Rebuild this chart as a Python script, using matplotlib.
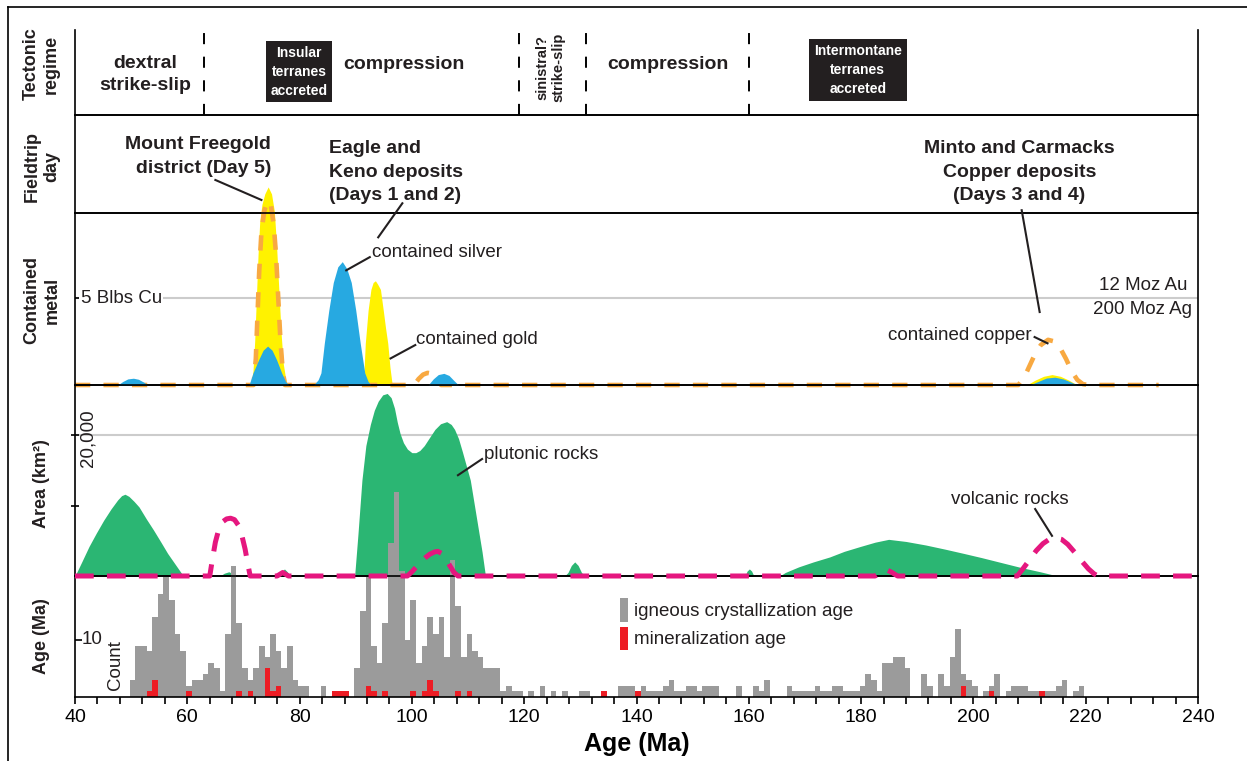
import matplotlib
matplotlib.use("Agg")
import matplotlib.pyplot as plt
from matplotlib.patches import Rectangle
from matplotlib.lines import Line2D
import numpy as np

plt.rcParams['font.family'] = ['Liberation Sans', 'DejaVu Sans']
plt.rcParams['lines.scale_dashes'] = False

# ---- tectonic regime ----
regime_bounds = [63, 119, 131, 160]

# ---- contained metal (arbitrary units, 5 = "5 Blbs Cu" line) ----
gold_age = [71.3, 71.7, 72.0, 72.3, 72.6, 72.9, 73.3, 73.8, 74.4, 75.0, 75.5, 75.9, 76.3, 76.7, 77.1, 77.6, 78.0,
            91.2, 91.5, 91.7, 92.2, 92.7, 93.1, 93.5, 93.9, 94.4, 94.9, 95.3, 95.7, 96.1, 96.5,
            209.5, 211.0, 212.5, 214.0, 215.5, 217.0, 218.5]
gold_val = [0, 0.8, 2.5, 5.0, 7.5, 9.4, 10.4, 11.0, 11.4, 11.0, 10.0, 8.0, 5.5, 3.0, 1.2, 0.2, 0,
            0, 1.0, 2.4, 4.3, 5.5, 5.9, 6.0, 5.8, 5.5, 4.3, 3.3, 2.4, 1.0, 0,
            0, 0.28, 0.5, 0.6, 0.5, 0.28, 0]

silver_age = [47.6, 48.5, 49.4, 50.4, 51.3, 52.2, 53.0,
              71.0, 71.7, 72.7, 73.5, 74.3, 75.1, 75.9, 76.8, 77.5, 78.1,
              82.5, 83.3, 83.8, 84.4, 85.2, 86.0, 86.8, 87.6, 88.4, 89.2, 90.0, 90.8, 91.6, 92.2, 92.7,
              102.9, 103.8, 104.7, 105.7, 106.6, 107.5, 108.3,
              210.0, 211.5, 213.0, 214.5, 216.0, 217.5, 218.5]
silver_val = [0, 0.2, 0.35, 0.39, 0.33, 0.17, 0,
              0, 0.7, 1.45, 2.0, 2.24, 2.0, 1.45, 0.7, 0.2, 0,
              0, 0.3, 0.7, 2.4, 4.3, 5.9, 6.8, 7.1, 6.7, 5.9, 4.3, 2.4, 0.7, 0.2, 0,
              0, 0.35, 0.6, 0.67, 0.55, 0.25, 0,
              0, 0.2, 0.4, 0.45, 0.35, 0.15, 0]

copper_age = [40, 71.8, 72.2, 72.5, 72.8, 73.2, 73.7, 74.3, 74.9, 75.4, 75.8, 76.2, 76.6, 77.0, 77.4,
              100.4, 101.2, 102.0, 102.8, 103.6, 104.4, 105.2,
              208.0, 209.0, 210.0, 211.0, 212.0, 213.3, 214.5, 215.5, 216.5, 217.5, 218.5, 219.5, 220.5, 233]
copper_val = [0, 0, 1.5, 4.0, 6.5, 8.8, 10.0, 10.6, 10.3, 9.2, 7.5, 5.0, 2.5, 0.8, 0,
              0, 0.35, 0.6, 0.7, 0.65, 0.35, 0,
              0, 0.4, 1.1, 1.8, 2.3, 2.6, 2.5, 2.1, 1.5, 0.8, 0.3, 0.05, 0, 0]

# ---- area (thousand km^2) ----
pluton_age = [40, 41.2, 42.5, 43.8, 45.1, 46.4, 47.6, 48.3, 48.9, 49.6, 50.5, 51.4, 52.7, 54.0, 55.3, 56.5, 57.9, 59.3,
              65.8, 66.6, 67.4, 68.2, 69.0,
              76.2, 76.8, 77.3, 77.8, 78.4,
              89.8, 90.4, 91.1, 91.8, 92.6, 93.3, 94.0, 94.8, 95.6, 96.3, 96.9, 97.4, 97.9, 98.5, 99.2,
              100.0, 100.7, 101.4, 102.2, 103.1, 104.1, 105.1, 106.2, 107.0, 107.6, 108.3, 109.0, 109.7,
              110.4, 111.1, 111.8, 112.5, 113.1,
              127.2, 127.8, 128.4, 129.0, 129.6, 130.2, 130.8,
              159.3, 159.7, 160.1, 160.5, 160.9,
              165.5, 166.5, 168.9, 171.5, 174.4, 177.0, 179.9, 182.5, 184.9, 188.0, 191.5, 195.0, 198.3,
              201.5, 205.0, 208.5, 211.9, 215.0]
pluton_val = [0, 2.0, 4.2, 6.1, 7.9, 9.5, 10.8, 11.4, 11.6, 11.3, 10.6, 9.8, 8.1, 6.5, 4.8, 3.2, 1.6, 0,
              0, 0.4, 0.6, 0.3, 0,
              0, 0.6, 1.0, 0.6, 0,
              0, 6.0, 13.6, 18.5, 21.5, 23.5, 24.8, 25.7, 25.9, 25.3, 23.8, 21.8, 20.2, 18.9, 18.0,
              17.5, 17.5, 17.8, 18.5, 19.6, 20.8, 21.6, 21.9, 21.5, 20.8, 19.5, 17.6, 15.6,
              13.6, 10.2, 6.8, 3.4, 0,
              0, 0.5, 1.5, 2.0, 1.5, 0.5, 0,
              0, 0.7, 1.0, 0.7, 0,
              0, 0.5, 1.3, 2.0, 2.7, 3.5, 4.2, 4.8, 5.2, 4.9, 4.4, 3.8, 3.2,
              2.6, 1.9, 1.2, 0.6, 0]

volc_age = [40, 64.0, 64.5, 65.0, 65.6, 66.3, 67.0, 67.7, 68.4, 69.1, 69.7, 70.3, 70.8, 71.2,
            76.0, 77.0, 78.0,
            99.2, 100.0, 100.8, 101.6, 102.4, 103.2, 104.0, 104.6, 105.3, 106.0, 106.8, 107.5, 108.2,
            182.5, 183.5, 184.5, 185.5, 186.5,
            207.8, 208.8, 210.0, 211.2, 212.4, 213.5, 214.6, 215.7, 216.8, 218.0, 219.2, 220.5, 221.5, 222.2, 240]
volc_val = [0, 0, 2.5, 4.8, 6.6, 7.7, 8.1, 8.2, 8.0, 7.2, 5.8, 3.8, 1.6, 0,
            0, 0.5, 0,
            0, 0.6, 1.3, 2.0, 2.6, 3.1, 3.4, 3.5, 3.2, 2.5, 1.4, 0.5, 0,
            0, 0.5, 0.9, 0.5, 0,
            0, 1.0, 2.3, 3.6, 4.6, 5.2, 5.4, 5.2, 4.5, 3.4, 2.2, 1.0, 0.3, 0, 0]

# ---- age histogram (1 Ma bins starting at 50 Ma) ----
igneous_counts = [3, 9, 9, 8, 14, 18, 21, 17, 11, 8,
                  2, 3, 3, 4, 6, 5, 1, 11, 23, 13,
                  5, 3, 5, 9, 7, 11, 8, 5, 9, 3,
                  2, 2, 0, 0, 2, 0, 1, 1, 1, 0,
                  5, 15, 21, 9, 6, 13, 27, 36, 22, 10,
                  17, 6, 9, 14, 11, 14, 7, 24, 16, 7,
                  11, 8, 7, 5, 5, 5, 1, 2, 1, 1,
                  0, 1, 0, 2, 0, 1, 0, 1, 0, 0,
                  1, 1, 0, 0, 1, 0, 0, 2, 2, 2,
                  1, 2, 1, 1, 1, 2, 3, 1, 1, 2,
                  2, 1, 2, 2, 2, 0, 0, 0, 2, 0,
                  0, 2, 1, 3, 0, 0, 0, 2, 1, 1,
                  1, 1, 2, 1, 1, 2, 2, 1, 1, 1,
                  2, 4, 3, 1, 6, 6, 7, 7, 5, 0,
                  0, 4, 2, 0, 4, 2, 7, 12, 4, 3,
                  2, 0, 1, 2, 4, 0, 1, 2, 2, 2,
                  1, 1, 1, 1, 1, 2, 3, 0, 1, 2]
igneous_bins = list(range(50, 50 + len(igneous_counts)))
mineral_bins = [53, 54, 60, 69, 71, 74, 75, 76, 86, 87, 88, 92, 93, 95, 100, 102, 103, 104, 108, 110, 134, 140, 198, 203, 212]
mineral_counts = [1, 3, 1, 1, 1, 5, 1, 2, 1, 1, 1, 2, 1, 1, 1, 1, 3, 1, 1, 1, 1, 1, 2, 1, 1]

YELLOW = '#FFF200'
BLUE = '#27A9E1'
ORANGE = '#F8A941'
GREEN = '#2BB673'
MAGENTA = '#E5177F'
GREY = '#9B9B9B'
RED = '#ED1C24'
GRID = '#CCCCCC'
INK = '#231F20'

W, H = 1247, 761
fig = plt.figure(figsize=(W / 100, H / 100), dpi=100)
fig.patch.set_facecolor('white')


def panel(top, bottom, z):
    ax = fig.add_axes([75 / W, 1 - bottom / H, (1198 - 75) / W, (bottom - top) / H], zorder=z)
    ax.set_xlim(40, 240)
    ax.patch.set_visible(False)
    for s in ax.spines.values():
        s.set_linewidth(1.2)
    ax.tick_params(bottom=False, labelbottom=False, left=False, labelleft=False)
    return ax


ax_t = panel(30, 115, 1)
ax_f = panel(115, 213, 2)
ax_m = panel(213, 385, 3)
ax_a = panel(385, 576, 4)
ax_h = panel(576, 697, 5)

# outer frame
fig.add_artist(Line2D([8 / W, 1], [1 - 7 / H, 1 - 7 / H], transform=fig.transFigure, color='black', lw=1.2))
fig.add_artist(Line2D([8 / W, 8 / W], [1 - 7 / H, 0], transform=fig.transFigure, color='black', lw=1.2))

# ---- tectonic regime ----
ax_t.set_ylim(0, 1)
ax_t.spines['top'].set_visible(False)
for b in regime_bounds:
    ax_t.axvline(b, color='black', lw=1.4, ls=(0, (8, 9)))
bold = dict(fontsize=14, fontweight='bold', color=INK)
ax_t.text(52.5, 0.475, 'dextral\nstrike-slip', ha='center', va='center', linespacing=1.4, **bold)
ax_t.text(98.6, 0.59, 'compression', ha='center', va='center', **bold)
ax_t.text(145.6, 0.59, 'compression', ha='center', va='center', **bold)
box = dict(boxstyle='square,pad=0.35', fc=INK, ec='none')
ax_t.text(79.9, 0.51, 'Insular\nterranes\naccreted', ha='center', va='center', color='white',
          fontsize=10, fontweight='bold', linespacing=1.45, bbox=box)
ax_t.text(179.4, 0.53, 'Intermontane\nterranes\naccreted', ha='center', va='center', color='white',
          fontsize=10, fontweight='bold', linespacing=1.45, bbox=box)
ax_t.text(124.7, 0.56, 'sinistral?\nstrike-slip', ha='center', va='center', rotation=90,
          fontsize=10.5, fontweight='bold', color=INK, linespacing=1.2)

# ---- fieldtrip day ----
ax_f.set_ylim(0, 1)
ax_f.text(74.9, 0.577, 'Mount Freegold\ndistrict (Day 5)', ha='right', va='center', linespacing=1.55, **bold)
ax_f.text(85.3, 0.418, 'Eagle and\nKeno deposits\n(Days 1 and 2)', ha='left', va='center',
          linespacing=1.5, **bold)
ax_f.text(208.2, 0.418, 'Minto and Carmacks\nCopper deposits\n(Days 3 and 4)', ha='center', va='center',
          linespacing=1.5, **bold)
ax_f.plot([65.0, 73.2], [0.337, 0.133], color=INK, lw=1.5)

# ---- contained metal ----
ax_m.set_ylim(0, 9.9)
ax_m.axhline(5, color=GRID, lw=1.5, zorder=0)
ax_m.fill_between(gold_age, gold_val, color=YELLOW, lw=0, clip_on=False, zorder=1)
ax_m.plot(copper_age, copper_val, color=ORANGE, lw=3.3, dashes=(11, 9.5), clip_on=False, zorder=2)
ax_m.fill_between(silver_age, silver_val, color=BLUE, lw=0, clip_on=False, zorder=3)
ax_m.tick_params(left=True, direction='in', length=4, width=1.2)
ax_m.set_yticks([5])
norm = dict(fontsize=13.5, color=INK)
ax_m.text(41.0, 5, '5 Blbs Cu', ha='left', va='center', zorder=4,
          bbox=dict(fc='white', ec='none', pad=1), **norm)
ax_m.text(230.2, 5.75, '12 Moz Au', ha='center', va='center', **norm)
ax_m.text(230.2, 4.37, '200 Moz Ag', ha='center', va='center', **norm)
ax_m.text(92.9, 7.64, 'contained silver', ha='left', va='center', **norm)
ax_m.text(100.7, 2.64, 'contained gold', ha='left', va='center', **norm)
ax_m.text(210.3, 2.87, 'contained copper', ha='right', va='center', **norm)
lead = dict(color=INK, lw=1.5, clip_on=False, zorder=5)
ax_m.plot([92.5, 88.3], [7.36, 6.6], **lead)
ax_m.plot([100.6, 96.2], [2.3, 1.53], **lead)
ax_m.plot([210.9, 213.2], [2.76, 2.4], **lead)
ax_m.plot([98.3, 94.0], [10.46, 8.5], **lead)
ax_m.plot([208.6, 211.8], [10.06, 4.2], **lead)

# ---- area ----
ax_a.set_ylim(0, 27.1)
ax_a.axhline(20, color=GRID, lw=1.5, zorder=0)
ax_a.fill_between(pluton_age, pluton_val, color=GREEN, lw=0, zorder=1)
ax_a.set_yticks([10, 20])
ax_a.tick_params(left=True, direction='inout', length=6, width=1.2)
ax_a.text(42.4, 19.6, '20,000', rotation=90, ha='center', va='center', **norm)
ax_a.text(112.8, 17.3, 'plutonic rocks', ha='left', va='center', **norm)
ax_a.text(206.4, 10.9, 'volcanic rocks', ha='center', va='center', **norm)
ax_a.plot([112.5, 108.2], [16.6, 14.3], **lead)
ax_a.plot([211.0, 214.0], [9.5, 5.7], **lead)

# ---- age histogram ----
ax_h.set_ylim(0, 21.2)
ax_h.bar(np.array(igneous_bins) - 0.25, igneous_counts, width=1, align='edge', color=GREY,
         lw=0, clip_on=False, zorder=1)
ax_h.bar(np.array(mineral_bins) - 0.25, mineral_counts, width=1, align='edge', color=RED,
         lw=0, clip_on=False, zorder=2)
# volcanic line drawn here so it sits above the tall histogram bars
ax_h.plot(volc_age, volc_val, color=MAGENTA, lw=3.6, dashes=(13.5, 9.5),
          transform=ax_a.transData, clip_on=False, zorder=3)
ax_h.set_yticks([10])
ax_h.tick_params(left=True, direction='in', length=5, width=1.2)
ax_h.text(43.0, 10, '10', ha='center', va='center', **norm)
ax_h.text(47.3, 5.6, 'Count', rotation=90, ha='center', va='center', **norm)
ax_h.add_patch(Rectangle((137.1, 13.2), 1.4, 4.2, color=GREY, lw=0))
ax_h.add_patch(Rectangle((137.1, 8.2), 1.4, 4.1, color=RED, lw=0))
ax_h.text(139.6, 14.9, 'igneous crystallization age', ha='left', va='center', **norm)
ax_h.text(139.6, 10.0, 'mineralization age', ha='left', va='center', **norm)

ax_h.set_xticks(np.arange(40, 241, 20))
ax_h.set_xticks(np.arange(40, 241, 4), minor=True)
ax_h.tick_params(axis='x', which='both', bottom=True, labelbottom=True, direction='out',
                 length=5, width=1.2, pad=4)
for lab in ax_h.get_xticklabels():
    lab.set_family(['Liberation Sans Narrow', 'Liberation Sans'])
    lab.set_fontsize(14)
ax_h.set_xlabel('Age (Ma)', fontsize=18, fontweight='bold', labelpad=4,
                family=['Liberation Sans Narrow', 'Liberation Sans'])

# ---- panel titles ----
ylab = dict(rotation=90, ha='center', va='center', fontsize=13, fontweight='bold',
            color=INK, linespacing=1.2)
fig.text(41 / W, 1 - 64 / H, 'Tectonic\nregime', **ylab)
fig.text(42 / W, 1 - 166 / H, 'Fieldtrip\nday', **ylab)
fig.text(42 / W, 1 - 300 / H, 'Contained\nmetal', **ylab)
fig.text(42 / W, 1 - 484 / H, 'Area (km²)', **ylab)
fig.text(42 / W, 1 - 636 / H, 'Age (Ma)', **ylab)

fig.savefig('out.png', dpi=100)
